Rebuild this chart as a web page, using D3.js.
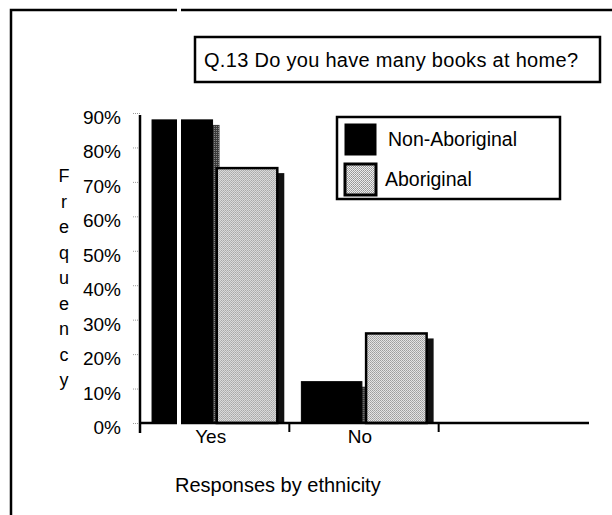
<!DOCTYPE html>
<html>
<head>
<meta charset="utf-8">
<script src="https://cdn.jsdelivr.net/npm/d3@7"></script>
<style>
  html, body { margin: 0; padding: 0; background: #fff; }
  svg { display: block; font-family: "Liberation Sans", Arial, Helvetica, sans-serif; }
</style>
</head>
<body>
<svg id="chart" width="612" height="515"></svg>
<script>
// Response slots along the x axis (the last slot is left empty)
const categorySlots = ["Yes", "No", ""];
const categories = ["Yes", "No"];
const series = ["Non-Aboriginal", "Aboriginal"];
// Share of respondents per answer
const nonAboriginal = [0.88, 0.12];
const aboriginal = [0.74, 0.26];
const yTickValues = [0, 0.1, 0.2, 0.3, 0.4, 0.5, 0.6, 0.7, 0.8, 0.9];
const yLabelLetters = ["F", "r", "e", "q", "u", "e", "n", "c", "y"];
const titleText = "Q.13 Do you have many books at home?";
const xTitleText = "Responses by ethnicity";

const seriesValues = [nonAboriginal, aboriginal];
const rows = [];
categories.forEach((c, i) => {
  series.forEach((s, j) => rows.push({ category: c, series: s, value: seriesValues[j][i] }));
});

const svg = d3.select("#chart");

// Dithered grey fill
const defs = svg.append("defs");
const pat = defs.append("pattern").attr("id", "dither")
  .attr("width", 2).attr("height", 2).attr("patternUnits", "userSpaceOnUse");
pat.append("rect").attr("width", 2).attr("height", 2).attr("fill", "#ececec");
pat.append("rect").attr("width", 1).attr("height", 1).attr("fill", "#959595");
pat.append("rect").attr("x", 1).attr("y", 1).attr("width", 1).attr("height", 1).attr("fill", "#a5a5a5");

const shade = defs.append("pattern").attr("id", "darkDither")
  .attr("width", 2).attr("height", 2).attr("patternUnits", "userSpaceOnUse");
shade.append("rect").attr("width", 2).attr("height", 2).attr("fill", "#3a3a3a");
shade.append("rect").attr("width", 1).attr("height", 1).attr("fill", "#8a8a8a");

const fills = d3.scaleOrdinal().domain(series).range(["#000", "url(#dither)"]);
const shadowFills = d3.scaleOrdinal().domain(series).range(["url(#darkDither)", "#111"]);

// Outer frame (left and top edges)
svg.append("path")
  .attr("d", "M11,515V10H612")
  .attr("fill", "none").attr("stroke", "#000").attr("stroke-width", 2.5);

// Title box
const titleG = svg.append("g");
titleG.append("rect")
  .attr("x", 195).attr("y", 37).attr("width", 405).attr("height", 45)
  .attr("fill", "#fff").attr("stroke", "#000").attr("stroke-width", 2.5);
titleG.append("text")
  .attr("x", 204).attr("y", 67)
  .attr("font-size", 20).attr("letter-spacing", 0.3)
  .text(titleText);

// Scales
const x = d3.scaleBand().domain(categorySlots).range([140, 588]);
const xInner = d3.scaleBand().domain(series).range([0, x.bandwidth()])
  .paddingInner(0.065).paddingOuter(0.186);
const y = d3.scaleLinear().domain([0, 0.9]).range([423, 113]);

// Y axis
const yAxisG = svg.append("g").attr("transform", "translate(140,0)");
yAxisG.call(d3.axisLeft(y).tickValues(yTickValues).tickSize(7).tickFormat(""));
yAxisG.select(".domain").remove();
yAxisG.selectAll(".tick line").attr("stroke", "#9a9a9a").attr("stroke-dasharray", "1,1");
svg.append("line")
  .attr("x1", 140).attr("x2", 140).attr("y1", y(0.9) + 2).attr("y2", y(0) + 10)
  .attr("stroke", "#000").attr("stroke-width", 2.5);

svg.append("g").selectAll("text")
  .data(yTickValues).join("text")
  .attr("x", 121).attr("y", d => y(d) + 11)
  .attr("text-anchor", "end").attr("font-size", 19)
  .text(d3.format(".0%"));

// Stacked-letter axis title
svg.append("g").selectAll("text")
  .data(yLabelLetters).join("text")
  .attr("x", 64).attr("y", (d, i) => 182 + i * 25.5)
  .attr("text-anchor", "middle").attr("font-size", 18)
  .text(d => d);

// Bars with drop shadows
const barG = svg.append("g");
const bars = barG.selectAll("g.bar").data(rows).join("g").attr("class", "bar")
  .attr("transform", d => `translate(${x(d.category) + xInner(d.series)},0)`);

bars.append("rect")
  .attr("x", 7).attr("y", d => y(d.value) + 5)
  .attr("width", xInner.bandwidth())
  .attr("height", d => y(0) - y(d.value) - 5)
  .attr("fill", d => shadowFills(d.series));

bars.append("rect")
  .attr("x", 0).attr("y", d => y(d.value))
  .attr("width", xInner.bandwidth())
  .attr("height", d => y(0) - y(d.value))
  .attr("fill", d => fills(d.series))
  .attr("stroke", "#000").attr("stroke-width", d => d.series === series[1] ? 2.5 : 1);

// X axis line and slot dividers
svg.append("line")
  .attr("x1", 140).attr("x2", 589).attr("y1", y(0)).attr("y2", y(0))
  .attr("stroke", "#000").attr("stroke-width", 2.5);
svg.append("g").selectAll("line")
  .data(categorySlots.slice(1)).join("line")
  .attr("x1", d => x(d)).attr("x2", d => x(d))
  .attr("y1", y(0)).attr("y2", y(0) + 9)
  .attr("stroke", "#000").attr("stroke-width", 2);

svg.append("g").selectAll("text")
  .data(categories).join("text")
  .attr("x", d => x(d) + x.bandwidth() / 2 - 4)
  .attr("y", 443)
  .attr("text-anchor", "middle").attr("font-size", 19)
  .text(d => d);

svg.append("text")
  .attr("x", 175).attr("y", 492)
  .attr("font-size", 20)
  .text(xTitleText);

// Legend
const legend = svg.append("g");
legend.append("rect")
  .attr("x", 337).attr("y", 117).attr("width", 223).attr("height", 82)
  .attr("fill", "#fff").attr("stroke", "#000").attr("stroke-width", 2.5);
const items = legend.selectAll("g.item").data(series).join("g").attr("class", "item")
  .attr("transform", (d, i) => `translate(345,${124 + i * 40})`);
items.append("rect")
  .attr("width", 31).attr("height", 31)
  .attr("fill", d => fills(d))
  .attr("stroke", "#000").attr("stroke-width", (d, i) => i === 1 ? 3 : 1);
items.append("text")
  .attr("x", (d, i) => i === 0 ? 43 : 40).attr("y", 22)
  .attr("font-size", 19.5)
  .text(d => d);

// Thin white rule running down through the plot
svg.append("rect")
  .attr("x", 177).attr("y", 0).attr("width", 4).attr("height", 436)
  .attr("fill", "#fff");
</script>
</body>
</html>
